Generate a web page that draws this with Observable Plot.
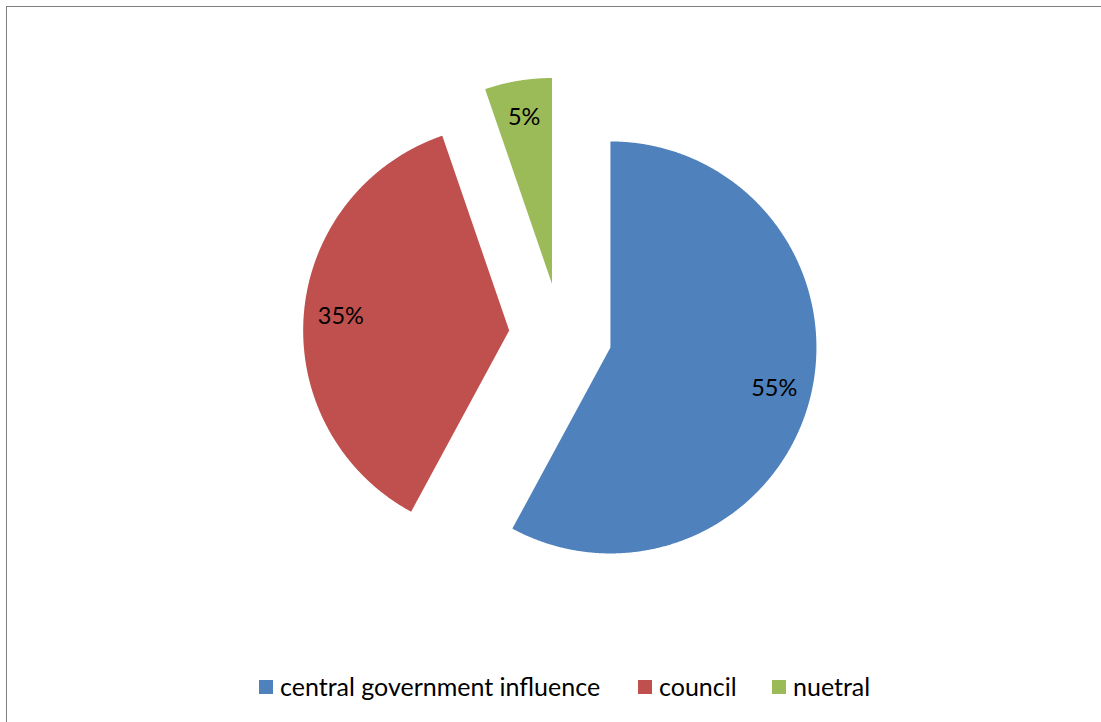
<!DOCTYPE html>
<html>
<head>
<meta charset="utf-8">
<script src="https://cdn.jsdelivr.net/npm/d3@7"></script>
<script src="https://cdn.jsdelivr.net/npm/@observablehq/plot@0.6"></script>
<style>
  html, body { margin: 0; padding: 0; background: #fff; }
  #page { position: relative; width: 1101px; height: 722px; overflow: hidden; font-family: Lato, "Noto Sans", sans-serif; }
  #frame { position: absolute; left: 6px; top: 6px; width: 1300px; height: 900px; border: 1px solid #7f7f7f; border-right: none; border-bottom: none; pointer-events: none; }
  #chart { position: relative; }
  #chart svg { display: block; }
  #legend { position: relative; height: 62px; }
  .item { position: absolute; top: 12px; display: flex; align-items: center; gap: 7px; font-size: 25px; line-height: 28px; color: #000; white-space: nowrap; }
  .sw { width: 14px; height: 14px; flex: none; position: relative; top: 1px; }
</style>
</head>
<body>
<div id="page">
  <div id="frame"></div>
  <div id="chart"></div>
  <div id="legend"></div>
</div>
<script>
// ---- data ----
const categories = ["central government influence", "council", "nuetral"];
const values = [55, 35, 5];
const labels = ["55%", "35%", "5%"];
const colors = ["#4F81BD", "#C0504D", "#9BBB59"];

// ---- build slices (unit circle, exploded) ----
const explode = 0.25;
const labelRadius = 0.82;
const rows = categories.map((c, i) => ({key: c, value: values[i], label: labels[i]}));
const arcs = d3.pie().sort(null).value(d => d.value).startAngle(0).endAngle(2 * Math.PI)(rows);

const pts = [];
const labelRows = [];
arcs.forEach(a => {
  const mid = (a.startAngle + a.endAngle) / 2;
  const ox = explode * Math.sin(mid), oy = explode * Math.cos(mid);
  pts.push({key: a.data.key, x: ox, y: oy});
  const n = Math.max(2, Math.ceil((a.endAngle - a.startAngle) / (Math.PI / 720)));
  for (let i = 0; i <= n; i++) {
    const t = a.startAngle + (a.endAngle - a.startAngle) * i / n;
    pts.push({key: a.data.key, x: ox + Math.sin(t), y: oy + Math.cos(t)});
  }
  labelRows.push({key: a.data.key, text: a.data.label,
    x: ox + labelRadius * Math.sin(mid), y: oy + labelRadius * Math.cos(mid)});
});

const W = 1101, H = 660, R = 206, cx = 560, cy = 334.3;
const chart = Plot.plot({
  width: W, height: H, margin: 0,
  style: {background: "transparent", fontFamily: "Lato, 'Noto Sans', sans-serif"},
  x: {domain: [-cx / R, (W - cx) / R], axis: null},
  y: {domain: [(cy - H) / R, cy / R], axis: null},
  color: {domain: categories, range: colors},
  marks: [
    Plot.line(pts, {x: "x", y: "y", z: "key", fill: "key", stroke: "none", curve: "linear-closed"}),
    Plot.text(labelRows, {x: "x", y: "y", text: "text", fill: "#000", fontSize: 23.5, textAnchor: "middle", lineAnchor: "middle"})
  ]
});
document.getElementById("chart").appendChild(chart);

// ---- legend below ----
const lefts = [259, 638, 772];
const legend = document.getElementById("legend");
categories.forEach((c, i) => {
  const it = document.createElement("div");
  it.className = "item";
  it.style.left = lefts[i] + "px";
  const sw = document.createElement("span");
  sw.className = "sw";
  sw.style.background = colors[i];
  const tx = document.createElement("span");
  tx.textContent = c;
  it.appendChild(sw);
  it.appendChild(tx);
  legend.appendChild(it);
});
</script>
</body>
</html>
